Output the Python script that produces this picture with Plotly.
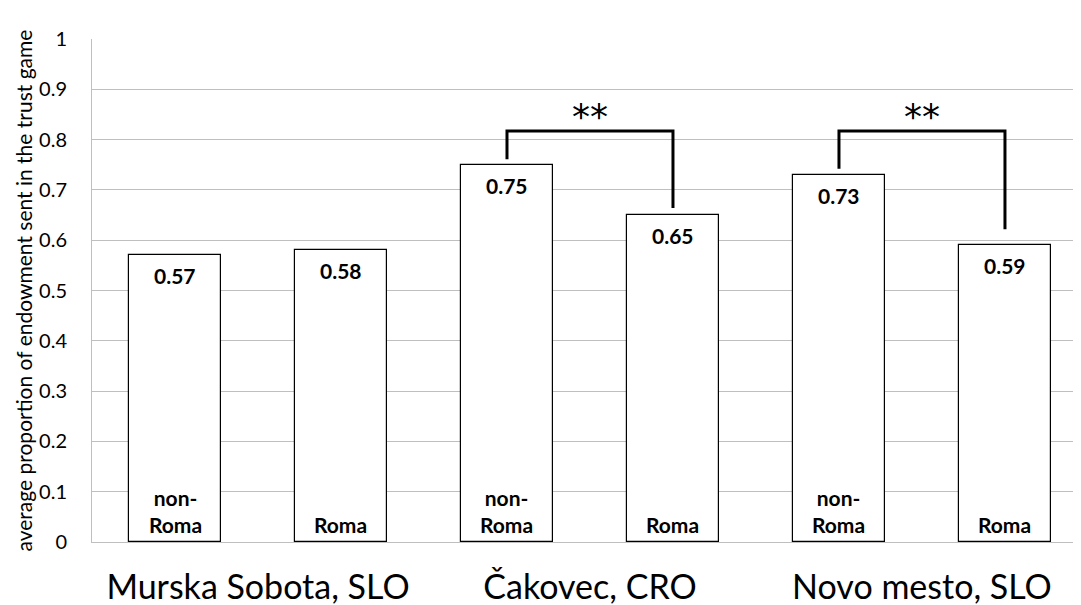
import plotly.graph_objects as go

# ---- data ----
groups = ["Murska Sobota, SLO", "Čakovec, CRO", "Novo mesto, SLO"]
series_names = ["non-Roma", "Roma"]
series_labels = ["non-<br>Roma", "Roma"]
non_roma = [0.57, 0.75, 0.73]
roma = [0.58, 0.65, 0.59]
value_text_non_roma = ["0.57", "0.75", "0.73"]
value_text_roma = ["0.58", "0.65", "0.59"]
sig_groups = [1, 2]
sig_marks = ["**", "**"]
y_tickvals = [0, 0.1, 0.2, 0.3, 0.4, 0.5, 0.6, 0.7, 0.8, 0.9, 1]
y_ticktext = ["0", "0.1", "0.2", "0.3", "0.4", "0.5", "0.6", "0.7", "0.8", "0.9", "1"]
y_title = "average proportion of endowment sent in the trust game"

FONT = "Lato"
GRID = "#bfbfbf"

xs, vals, vtexts, stexts = [], [], [], []
for g in range(len(groups)):
    for s, (arr, tarr) in enumerate([(non_roma, value_text_non_roma), (roma, value_text_roma)]):
        xs.append(2 * g + s)
        vals.append(arr[g])
        vtexts.append(tarr[g])
        stexts.append(series_labels[s])

fig = go.Figure()
fig.add_trace(go.Bar(
    x=xs, y=vals, width=0.554,
    marker=dict(color="white", line=dict(color="black", width=1.2)),
    hoverinfo="skip", showlegend=False,
))

annotations = []
for x, v, t, st in zip(xs, vals, vtexts, stexts):
    annotations.append(dict(x=x, y=v, xref="x", yref="y", text="<b>%s</b>" % t,
                            showarrow=False, yanchor="top", yshift=-6,
                            font=dict(family=FONT, size=21, color="black")))
    annotations.append(dict(x=x, y=0, xref="x", yref="y", text="<b>%s</b>" % st,
                            showarrow=False, yanchor="bottom", yshift=3,
                            font=dict(family=FONT, size=21, color="black")))

shapes = []
bracket_top = 0.817
left_gap = [0.011, 0.012]
right_gap = [0.014, 0.032]
for k, (g, mark) in enumerate(zip(sig_groups, sig_marks)):
    xl, xr = 2 * g, 2 * g + 1
    yl = non_roma[g] + left_gap[k]
    yr = roma[g] + right_gap[k]
    shapes.append(dict(type="path", xref="x", yref="y",
                       path=f"M {xl} {yl} L {xl} {bracket_top} L {xr} {bracket_top} L {xr} {yr}",
                       line=dict(color="black", width=3)))
    annotations.append(dict(x=(xl + xr) / 2, y=bracket_top, xref="x", yref="y", text=mark,
                            showarrow=False, yanchor="bottom", yshift=-8,
                            font=dict(family="DejaVu Sans", size=36, color="black")))

annotations.append(dict(x=0, y=0.5, xref="paper", yref="paper", text=y_title,
                        textangle=-90, showarrow=False, xanchor="center", yanchor="middle",
                        xshift=-69, font=dict(family=FONT, size=21, color="black")))

# the page body has an 8px margin, so the figure is sized/offset to compensate
fig.update_layout(
    width=1073, height=597,
    margin=dict(l=84, r=0, t=31, b=63),
    paper_bgcolor="white", plot_bgcolor="white",
    bargap=0,
    annotations=annotations, shapes=shapes,
    xaxis=dict(range=[-0.5, 5.458], tickvals=[0.5, 2.5, 4.5], ticktext=groups,
               tickfont=dict(family=FONT, size=34, color="black"),
               showgrid=False, zeroline=False, showline=True, linecolor=GRID, linewidth=1,
               ticks="", ticklabelstandoff=15, automargin=False),
    yaxis=dict(range=[0, 1], tickvals=y_tickvals, ticktext=y_ticktext,
               tickfont=dict(family=FONT, size=20, color="black"),
               showgrid=True, gridcolor=GRID, gridwidth=1, zeroline=False,
               showline=True, linecolor=GRID, linewidth=1, ticks="",
               ticklabelstandoff=20, automargin=False),
)

fig.write_html("out.html")
